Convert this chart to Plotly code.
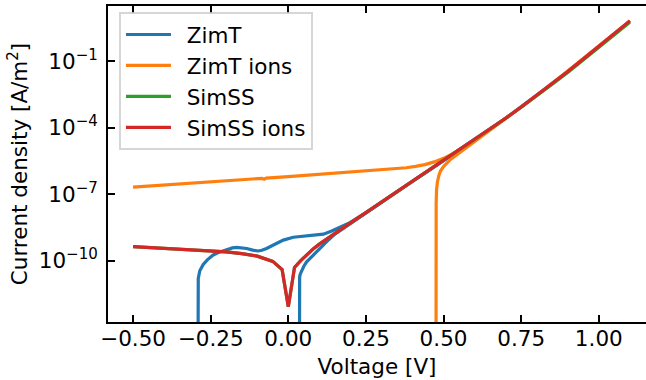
import plotly.graph_objects as go

# ---- JV data (voltage in V, current density magnitude in A/m^2) ----

# SimSS (steady state) and SimSS with mobile ions share one voltage grid
simss_v = [-0.50, -0.40, -0.30, -0.20, -0.15, -0.10, -0.05, -0.02, 0.00, 0.02,
           0.04, 0.06, 0.08, 0.10, 0.15, 0.20, 0.25, 0.30, 0.35, 0.40,
           0.45, 0.50, 0.55, 0.60, 0.65, 0.70, 0.75, 0.80, 0.85, 0.90,
           0.95, 1.00, 1.05, 1.10]
simss_j = [4.3e-10, 3.6e-10, 3.1e-10, 2.5e-10, 2.1e-10, 1.6e-10, 9.3e-11, 4.0e-11, 8.3e-13, 5.0e-11,
           1.0e-10, 1.9e-10, 3.4e-10, 5.6e-10, 1.74e-9, 5.1e-9, 1.48e-8, 4.4e-8, 1.29e-7, 3.8e-7,
           1.10e-6, 3.2e-6, 9.5e-6, 2.8e-5, 8.5e-5, 2.7e-4, 8.5e-4, 2.75e-3, 9.3e-3, 3.2e-2,
           0.117, 0.44, 1.6, 5.9]
simss_ions_j = [4.3e-10, 3.6e-10, 3.1e-10, 2.5e-10, 2.1e-10, 1.6e-10, 9.3e-11, 4.0e-11, 8.3e-13, 5.0e-11,
                1.0e-10, 1.9e-10, 3.4e-10, 5.6e-10, 1.74e-9, 5.1e-9, 1.48e-8, 4.4e-8, 1.29e-7, 3.8e-7,
                1.10e-6, 3.2e-6, 9.5e-6, 2.8e-5, 8.5e-5, 2.7e-4, 8.7e-4, 2.9e-3, 1.0e-2, 3.5e-2,
                0.13, 0.49, 1.8, 6.8]

# ZimT transient scan: forward sweep, then the return sweep
zimt_v = [-0.291, -0.290, -0.285, -0.279, -0.274, -0.260, -0.242, -0.220, -0.198, -0.180,
          -0.166, -0.150, -0.134, -0.115, -0.097, -0.085, -0.070, -0.040, -0.016, 0.016,
          0.050, 0.090, 0.113, 0.140, 0.167, 0.200, 0.25, 0.30, 0.35, 0.40,
          0.45, 0.50, 0.55, 0.60, 0.65, 0.70, 0.75, 0.80, 0.85, 0.90,
          0.95, 1.00, 1.05, 1.10,
          1.05, 1.00, 0.95, 0.90, 0.85, 0.80, 0.75, 0.70, 0.65, 0.60,
          0.55, 0.50, 0.45, 0.40, 0.35, 0.30, 0.25, 0.20, 0.15, 0.13,
          0.11, 0.091, 0.075, 0.059, 0.050, 0.043, 0.038, 0.0365, 0.0358]
zimt_j = [1e-16, 1.6e-11, 3.5e-11, 5.2e-11, 6.8e-11, 1.12e-10, 1.82e-10, 2.5e-10, 3.3e-10, 3.8e-10,
          4.0e-10, 3.9e-10, 3.55e-10, 3.0e-10, 2.75e-10, 2.95e-10, 3.55e-10, 5.8e-10, 8.5e-10, 1.15e-9,
          1.29e-9, 1.41e-9, 1.58e-9, 2.2e-9, 3.3e-9, 5.4e-9, 1.48e-8, 4.4e-8, 1.29e-7, 3.8e-7,
          1.10e-6, 3.2e-6, 9.5e-6, 2.8e-5, 8.5e-5, 2.7e-4, 8.7e-4, 2.9e-3, 1.0e-2, 3.5e-2,
          0.13, 0.49, 1.8, 6.8,
          1.8, 0.49, 0.13, 3.5e-2, 1.0e-2, 2.9e-3, 8.7e-4, 2.7e-4, 8.5e-5, 2.8e-5,
          9.5e-6, 3.2e-6, 1.10e-6, 3.8e-7, 1.29e-7, 4.4e-8, 1.48e-8, 5.1e-9, 1.58e-9, 8.9e-10,
          4.5e-10, 2.6e-10, 1.5e-10, 8.9e-11, 5.6e-11, 3.5e-11, 2.4e-11, 1.8e-11, 1e-16]

# ZimT with mobile ions: forward sweep (upper branch), then the return sweep
zimt_ions_v = [-0.50, -0.40, -0.30, -0.20, -0.10, -0.085, -0.078, -0.071, 0.00, 0.10,
               0.20, 0.30, 0.35, 0.38, 0.41, 0.44, 0.47, 0.50, 0.53, 0.56,
               0.59, 0.62, 0.65, 0.70, 0.75, 0.80, 0.85, 0.90, 0.95, 1.00,
               1.05, 1.10,
               1.05, 1.00, 0.95, 0.90, 0.85, 0.80, 0.75, 0.70, 0.65, 0.62,
               0.58, 0.55, 0.52, 0.50, 0.490, 0.485, 0.480, 0.4775, 0.4762, 0.4757]
zimt_ions_j = [2.1e-7, 2.6e-7, 3.3e-7, 4.2e-7, 5.1e-7, 5.25e-7, 4.8e-7, 5.4e-7, 6.3e-7, 7.9e-7,
               1.0e-6, 1.23e-6, 1.41e-6, 1.58e-6, 1.82e-6, 2.19e-6, 2.9e-6, 4.2e-6, 6.8e-6, 1.17e-5,
               2.2e-5, 4.3e-5, 8.5e-5, 2.7e-4, 8.7e-4, 2.9e-3, 1.0e-2, 3.5e-2, 0.13, 0.49,
               1.8, 6.8,
               1.8, 0.49, 0.13, 3.5e-2, 1.0e-2, 2.9e-3, 8.7e-4, 2.7e-4, 8.1e-5, 4.0e-5,
               1.5e-5, 7.6e-6, 3.5e-6, 1.78e-6, 1.12e-6, 7.1e-7, 3.5e-7, 1.6e-7, 4.0e-8, 1e-16]

# axis ticks
x_tickvals = [-0.50, -0.25, 0.00, 0.25, 0.50, 0.75, 1.00]
x_ticktext = ["\u22120.50", "\u22120.25", "0.00", "0.25", "0.50", "0.75", "1.00"]
y_tickvals = [1e-1, 1e-4, 1e-7, 1e-10]
y_ticktext = ["10<sup>\u22121</sup>", "10<sup>\u22124</sup>", "10<sup>\u22127</sup>", "10<sup>\u221210</sup>"]

FONT = "DejaVu Sans"
FS = 21.5
LW = 3.2
PAD = "\u2002"  # gap between legend handle and label

fig = go.Figure()
fig.add_trace(go.Scatter(x=zimt_v, y=zimt_j, mode="lines", name=PAD + "ZimT",
                         line=dict(color="#1f77b4", width=LW)))
fig.add_trace(go.Scatter(x=zimt_ions_v, y=zimt_ions_j, mode="lines", name=PAD + "ZimT ions",
                         line=dict(color="#ff7f0e", width=LW)))
fig.add_trace(go.Scatter(x=simss_v, y=simss_j, mode="lines", name=PAD + "SimSS",
                         line=dict(color="#2ca02c", width=LW)))
fig.add_trace(go.Scatter(x=simss_v, y=simss_ions_j, mode="lines", name=PAD + "SimSS ions",
                         line=dict(color="#d62728", width=LW)))

axis_common = dict(
    showgrid=False, zeroline=False,
    showline=True, linecolor="black", linewidth=1.7,
    ticks="inside", ticklen=7.5, tickwidth=1.7, tickcolor="black",
    tickfont=dict(family=FONT, size=FS, color="black"),
)

fig.update_layout(
    width=646, height=380,
    margin=dict(l=108, r=0, t=6, b=58),
    paper_bgcolor="white", plot_bgcolor="white",
    font=dict(family=FONT, size=FS, color="black"),
    xaxis=dict(
        **axis_common,
        mirror="allticks",
        range=[-0.5807, 1.152],
        tickvals=x_tickvals, ticktext=x_ticktext,
        ticklabelstandoff=-4,
        title=dict(text="Voltage [V]", font=dict(family=FONT, size=FS), standoff=9),
    ),
    yaxis=dict(
        **axis_common,
        type="log",
        range=[-12.769, 1.504],
        tickvals=y_tickvals, ticktext=y_ticktext,
        ticklabelstandoff=4,
        title=dict(text="Current density [A/m<sup>2</sup>]", font=dict(family=FONT, size=FS), standoff=5),
    ),
    showlegend=True,
    legend=dict(
        x=0.0204, y=0.981, xanchor="left", yanchor="top",
        bgcolor="rgba(255,255,255,0.8)",
        bordercolor="rgba(204,204,204,0.8)", borderwidth=2,
        font=dict(family=FONT, size=FS, color="black"),
        itemwidth=45,
    ),
)

fig.write_html("out.html")
